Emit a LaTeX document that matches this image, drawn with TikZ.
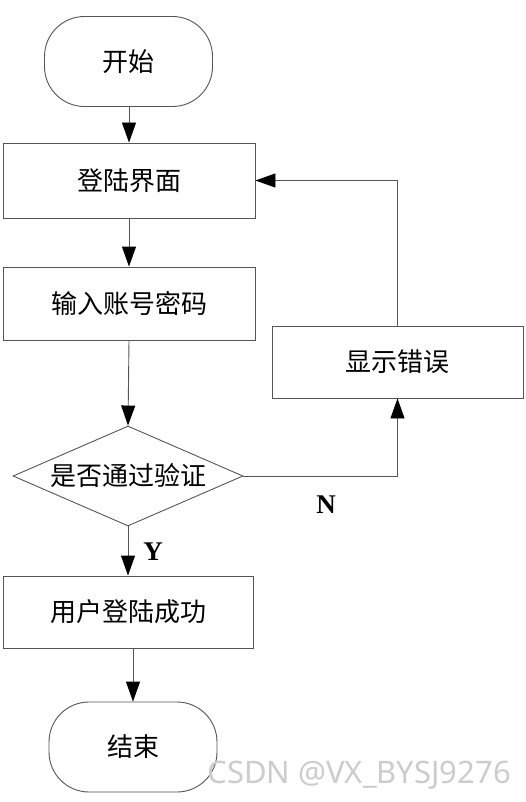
\documentclass[tikz,border=0pt]{standalone}
\usepackage{fontspec}
\setmainfont{Liberation Serif}
\newfontfamily\cjk{Noto Sans CJK SC}
\newfontfamily\wmfont{Noto Sans}
\usetikzlibrary{shapes.geometric,arrows.meta}
\definecolor{edge}{RGB}{85,85,85}
\tikzset{
  cjkfont/.style={font=\cjk\fontsize{26}{30}\selectfont},
  box/.style={draw=edge, line width=0.9pt, rectangle, minimum width=#1, inner sep=0pt, cjkfont},
  term/.style={draw=edge, line width=0.9pt, rectangle, rounded corners=40pt, minimum width=168pt, minimum height=90pt, inner sep=0pt, cjkfont},
  dec/.style={draw=edge, line width=0.9pt, diamond, minimum width=230pt, minimum height=100pt, inner sep=0pt},
  flow/.style={draw=edge, line width=0.9pt, -{Triangle[length=20pt,width=14pt,fill=black,color=black]}},
  yn/.style={font=\bfseries\fontsize{27}{30}\selectfont}
}
\begin{document}
\begin{tikzpicture}[x=1pt,y=-1pt]
\useasboundingbox (0,0) rectangle (526,802);
\node[term] (start) at (128.5,61.5) {开始};
\node[box=252pt, minimum height=75pt] (login) at (129,180.5) {登陆界面};
\node[box=252pt, minimum height=73pt] (input) at (129,303.5) {输入账号密码};
\node[dec, label={[cjkfont]center:是否通过验证}] (check) at (128,476) {};
\node[box=250pt, minimum height=72pt] (ok) at (128,612) {用户登陆成功};
\node[term] (end) at (133,747) {结束};
\node[box=251pt, minimum height=72pt] (err) at (397.5,362) {显示错误};
\node[yn] (nlab) at (326,505) {N};
\node[yn] (ylab) at (153,552) {Y};
\node[text=black!20, font=\wmfont\fontsize{31}{34}\selectfont, anchor=west] (wm) at (204,775) {CSDN @VX\_BYSJ9276};
\draw[flow] (start.south -| login.north) -- (login.north);
\draw[flow] (login.south) -- (input.north);
\draw[flow] (input.south) -- (check.north);
\draw[flow] (check.south) -- (ok.north);
\draw[flow] (end.north |- ok.south) -- (end.north);
\draw[flow] (check.east) -| (err.south);
\draw[flow] (err.north) |- (login.east);
\end{tikzpicture}
\end{document}
